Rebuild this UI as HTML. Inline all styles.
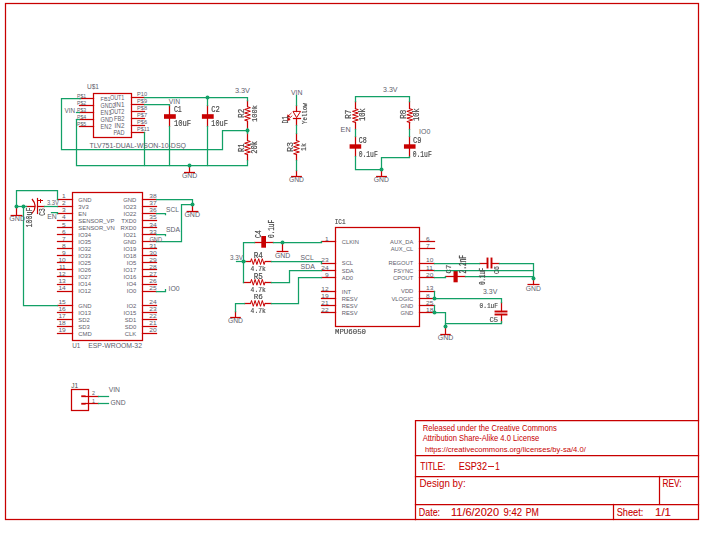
<!DOCTYPE html>
<html><head><meta charset="utf-8"><style>
html,body{margin:0;padding:0;background:#fff;width:705px;height:533px;overflow:hidden}
svg{display:block;position:absolute;left:0;top:0}
#ov{will-change:transform}
text{white-space:pre}
</style></head><body>
<svg width="705" height="533" viewBox="0 0 705 533">
<rect x="5.50" y="3.50" width="693.00" height="516.00" fill="none" stroke="#c80000" stroke-width="1.25"/>
<polyline points="415.50,519.50 415.50,420.50 698.50,420.50" fill="none" stroke="#c80000" stroke-width="1.25" stroke-linecap="square" stroke-linejoin="miter"/>
<polyline points="415.50,455.50 698.50,455.50" fill="none" stroke="#c80000" stroke-width="1.25" stroke-linecap="square" stroke-linejoin="miter"/>
<polyline points="415.50,476.50 698.50,476.50" fill="none" stroke="#c80000" stroke-width="1.25" stroke-linecap="square" stroke-linejoin="miter"/>
<polyline points="415.50,504.50 698.50,504.50" fill="none" stroke="#c80000" stroke-width="1.25" stroke-linecap="square" stroke-linejoin="miter"/>
<polyline points="659.50,476.50 659.50,504.50" fill="none" stroke="#c80000" stroke-width="1.25" stroke-linecap="square" stroke-linejoin="miter"/>
<polyline points="613.50,504.50 613.50,519.50" fill="none" stroke="#c80000" stroke-width="1.25" stroke-linecap="square" stroke-linejoin="miter"/>
<polyline points="488.50,466.50 493.50,466.50" fill="none" stroke="#c80000" stroke-width="0.9" stroke-linecap="square" stroke-linejoin="miter"/>
<rect x="93.50" y="93.50" width="38.00" height="44.00" fill="none" stroke="#c80000" stroke-width="1.25"/>
<polyline points="79.50,98.50 93.50,98.50" fill="none" stroke="#c80000" stroke-width="1.25" stroke-linecap="square" stroke-linejoin="miter"/>
<polyline points="79.50,105.50 93.50,105.50" fill="none" stroke="#c80000" stroke-width="1.25" stroke-linecap="square" stroke-linejoin="miter"/>
<polyline points="79.50,112.50 93.50,112.50" fill="none" stroke="#c80000" stroke-width="1.25" stroke-linecap="square" stroke-linejoin="miter"/>
<polyline points="79.50,119.50 93.50,119.50" fill="none" stroke="#c80000" stroke-width="1.25" stroke-linecap="square" stroke-linejoin="miter"/>
<polyline points="79.50,126.50 93.50,126.50" fill="none" stroke="#c80000" stroke-width="1.25" stroke-linecap="square" stroke-linejoin="miter"/>
<polyline points="131.50,97.50 144.50,97.50" fill="none" stroke="#c80000" stroke-width="1.25" stroke-linecap="square" stroke-linejoin="miter"/>
<polyline points="131.50,104.50 144.50,104.50" fill="none" stroke="#c80000" stroke-width="1.25" stroke-linecap="square" stroke-linejoin="miter"/>
<polyline points="131.50,111.50 144.50,111.50" fill="none" stroke="#c80000" stroke-width="1.25" stroke-linecap="square" stroke-linejoin="miter"/>
<polyline points="131.50,118.50 144.50,118.50" fill="none" stroke="#c80000" stroke-width="1.25" stroke-linecap="square" stroke-linejoin="miter"/>
<polyline points="131.50,125.50 144.50,125.50" fill="none" stroke="#c80000" stroke-width="1.25" stroke-linecap="square" stroke-linejoin="miter"/>
<polyline points="131.50,132.50 144.50,132.50" fill="none" stroke="#c80000" stroke-width="1.25" stroke-linecap="square" stroke-linejoin="miter"/>
<polyline points="169.50,105.50 169.50,114.50" fill="none" stroke="#c80000" stroke-width="1.25" stroke-linecap="square" stroke-linejoin="miter"/>
<polyline points="169.50,118.50 169.50,126.50" fill="none" stroke="#c80000" stroke-width="1.25" stroke-linecap="square" stroke-linejoin="miter"/>
<rect x="164.00" y="114.20" width="11.80" height="4.60" fill="#c80000"/>
<polyline points="207.50,105.50 207.50,114.50" fill="none" stroke="#c80000" stroke-width="1.25" stroke-linecap="square" stroke-linejoin="miter"/>
<polyline points="207.50,118.50 207.50,126.50" fill="none" stroke="#c80000" stroke-width="1.25" stroke-linecap="square" stroke-linejoin="miter"/>
<rect x="201.90" y="114.20" width="11.80" height="4.60" fill="#c80000"/>
<polyline points="189.50,165.50 189.50,172.50" fill="none" stroke="#c80000" stroke-width="1.25" stroke-linecap="square" stroke-linejoin="miter"/>
<polyline points="184.60,172.50 194.40,172.50" fill="none" stroke="#c80000" stroke-width="1.25" stroke-linecap="square" stroke-linejoin="miter"/>
<polyline points="247.50,100.50 247.50,106.50" fill="none" stroke="#c80000" stroke-width="1.25" stroke-linecap="square" stroke-linejoin="miter"/>
<polyline points="247.50,121.50 247.50,130.50" fill="none" stroke="#c80000" stroke-width="1.25" stroke-linecap="square" stroke-linejoin="miter"/>
<polyline points="247.50,106.80 250.40,107.69 244.60,109.46 250.40,111.24 244.60,113.01 250.40,114.79 244.60,116.56 250.40,118.34 244.60,120.11 247.50,121.00" fill="none" stroke="#c80000" stroke-width="1.0" stroke-linecap="square" stroke-linejoin="miter"/>
<polyline points="247.50,130.50 247.50,140.50" fill="none" stroke="#c80000" stroke-width="1.25" stroke-linecap="square" stroke-linejoin="miter"/>
<polyline points="247.50,154.50 247.50,160.50" fill="none" stroke="#c80000" stroke-width="1.25" stroke-linecap="square" stroke-linejoin="miter"/>
<polyline points="247.50,140.60 250.40,141.47 244.60,143.22 250.40,144.97 244.60,146.72 250.40,148.47 244.60,150.22 250.40,151.97 244.60,153.72 247.50,154.60" fill="none" stroke="#c80000" stroke-width="1.0" stroke-linecap="square" stroke-linejoin="miter"/>
<polyline points="296.50,105.50 296.50,111.50" fill="none" stroke="#c80000" stroke-width="1.25" stroke-linecap="square" stroke-linejoin="miter"/>
<polygon points="293.0,111.4 300.6,111.4 296.6,117.6" fill="none" stroke="#c80000" stroke-width="1.0" stroke-linejoin="miter"/>
<polyline points="293.50,118.50 300.50,118.50" fill="none" stroke="#c80000" stroke-width="1.25" stroke-linecap="square" stroke-linejoin="miter"/>
<polyline points="296.50,118.50 296.50,125.50" fill="none" stroke="#c80000" stroke-width="1.25" stroke-linecap="square" stroke-linejoin="miter"/>
<polyline points="291.20,113.20 288.60,115.60" fill="none" stroke="#c80000" stroke-width="0.8" stroke-linecap="square" stroke-linejoin="miter"/>
<polyline points="291.90,116.00 289.00,118.70" fill="none" stroke="#c80000" stroke-width="0.8" stroke-linecap="square" stroke-linejoin="miter"/>
<polygon points="286.6,117.8 287.7,114.3 290.4,116.9" fill="#c80000"/>
<polygon points="286.9,120.9 288.0,117.4 290.7,120.0" fill="#c80000"/>
<polyline points="296.50,133.50 296.50,140.50" fill="none" stroke="#c80000" stroke-width="1.25" stroke-linecap="square" stroke-linejoin="miter"/>
<polyline points="296.50,154.50 296.50,160.50" fill="none" stroke="#c80000" stroke-width="1.25" stroke-linecap="square" stroke-linejoin="miter"/>
<polyline points="296.50,140.60 299.40,141.47 293.60,143.22 299.40,144.97 293.60,146.72 299.40,148.47 293.60,150.22 299.40,151.97 293.60,153.72 296.50,154.60" fill="none" stroke="#c80000" stroke-width="1.0" stroke-linecap="square" stroke-linejoin="miter"/>
<polyline points="296.50,170.50 296.50,176.50" fill="none" stroke="#c80000" stroke-width="1.25" stroke-linecap="square" stroke-linejoin="miter"/>
<polyline points="291.70,176.50 301.30,176.50" fill="none" stroke="#c80000" stroke-width="1.25" stroke-linecap="square" stroke-linejoin="miter"/>
<polyline points="355.50,101.50 355.50,108.50" fill="none" stroke="#c80000" stroke-width="1.25" stroke-linecap="square" stroke-linejoin="miter"/>
<polyline points="355.50,122.50 355.50,129.50" fill="none" stroke="#c80000" stroke-width="1.25" stroke-linecap="square" stroke-linejoin="miter"/>
<polyline points="355.40,108.75 358.30,109.61 352.50,111.33 358.30,113.05 352.50,114.77 358.30,116.48 352.50,118.20 358.30,119.92 352.50,121.64 355.40,122.50" fill="none" stroke="#c80000" stroke-width="1.0" stroke-linecap="square" stroke-linejoin="miter"/>
<polyline points="355.50,136.50 355.50,144.50" fill="none" stroke="#c80000" stroke-width="1.25" stroke-linecap="square" stroke-linejoin="miter"/>
<polyline points="355.50,148.50 355.50,156.50" fill="none" stroke="#c80000" stroke-width="1.25" stroke-linecap="square" stroke-linejoin="miter"/>
<rect x="349.60" y="144.30" width="11.60" height="4.40" fill="#c80000"/>
<polyline points="409.50,101.50 409.50,108.50" fill="none" stroke="#c80000" stroke-width="1.25" stroke-linecap="square" stroke-linejoin="miter"/>
<polyline points="409.50,122.50 409.50,129.50" fill="none" stroke="#c80000" stroke-width="1.25" stroke-linecap="square" stroke-linejoin="miter"/>
<polyline points="409.75,108.75 412.65,109.61 406.85,111.33 412.65,113.05 406.85,114.77 412.65,116.48 406.85,118.20 412.65,119.92 406.85,121.64 409.75,122.50" fill="none" stroke="#c80000" stroke-width="1.0" stroke-linecap="square" stroke-linejoin="miter"/>
<polyline points="409.50,136.50 409.50,144.50" fill="none" stroke="#c80000" stroke-width="1.25" stroke-linecap="square" stroke-linejoin="miter"/>
<polyline points="409.50,148.50 409.50,156.50" fill="none" stroke="#c80000" stroke-width="1.25" stroke-linecap="square" stroke-linejoin="miter"/>
<rect x="403.95" y="144.30" width="11.60" height="4.40" fill="#c80000"/>
<polyline points="381.50,169.50 381.50,176.50" fill="none" stroke="#c80000" stroke-width="1.25" stroke-linecap="square" stroke-linejoin="miter"/>
<polyline points="376.70,176.50 386.30,176.50" fill="none" stroke="#c80000" stroke-width="1.25" stroke-linecap="square" stroke-linejoin="miter"/>
<rect x="72.50" y="192.50" width="70.00" height="148.00" fill="none" stroke="#c80000" stroke-width="1.25"/>
<polyline points="57.50,199.50 72.50,199.50" fill="none" stroke="#c80000" stroke-width="1.25" stroke-linecap="square" stroke-linejoin="miter"/>
<polyline points="57.50,206.50 72.50,206.50" fill="none" stroke="#c80000" stroke-width="1.25" stroke-linecap="square" stroke-linejoin="miter"/>
<polyline points="57.50,213.50 72.50,213.50" fill="none" stroke="#c80000" stroke-width="1.25" stroke-linecap="square" stroke-linejoin="miter"/>
<polyline points="57.50,220.50 72.50,220.50" fill="none" stroke="#c80000" stroke-width="1.25" stroke-linecap="square" stroke-linejoin="miter"/>
<polyline points="57.50,227.50 72.50,227.50" fill="none" stroke="#c80000" stroke-width="1.25" stroke-linecap="square" stroke-linejoin="miter"/>
<polyline points="57.50,234.50 72.50,234.50" fill="none" stroke="#c80000" stroke-width="1.25" stroke-linecap="square" stroke-linejoin="miter"/>
<polyline points="57.50,241.50 72.50,241.50" fill="none" stroke="#c80000" stroke-width="1.25" stroke-linecap="square" stroke-linejoin="miter"/>
<polyline points="57.50,248.50 72.50,248.50" fill="none" stroke="#c80000" stroke-width="1.25" stroke-linecap="square" stroke-linejoin="miter"/>
<polyline points="57.50,255.50 72.50,255.50" fill="none" stroke="#c80000" stroke-width="1.25" stroke-linecap="square" stroke-linejoin="miter"/>
<polyline points="57.50,262.50 72.50,262.50" fill="none" stroke="#c80000" stroke-width="1.25" stroke-linecap="square" stroke-linejoin="miter"/>
<polyline points="57.50,269.50 72.50,269.50" fill="none" stroke="#c80000" stroke-width="1.25" stroke-linecap="square" stroke-linejoin="miter"/>
<polyline points="57.50,276.50 72.50,276.50" fill="none" stroke="#c80000" stroke-width="1.25" stroke-linecap="square" stroke-linejoin="miter"/>
<polyline points="57.50,284.50 72.50,284.50" fill="none" stroke="#c80000" stroke-width="1.25" stroke-linecap="square" stroke-linejoin="miter"/>
<polyline points="57.50,291.50 72.50,291.50" fill="none" stroke="#c80000" stroke-width="1.25" stroke-linecap="square" stroke-linejoin="miter"/>
<polyline points="57.50,305.50 72.50,305.50" fill="none" stroke="#c80000" stroke-width="1.25" stroke-linecap="square" stroke-linejoin="miter"/>
<polyline points="57.50,312.50 72.50,312.50" fill="none" stroke="#c80000" stroke-width="1.25" stroke-linecap="square" stroke-linejoin="miter"/>
<polyline points="57.50,319.50 72.50,319.50" fill="none" stroke="#c80000" stroke-width="1.25" stroke-linecap="square" stroke-linejoin="miter"/>
<polyline points="57.50,326.50 72.50,326.50" fill="none" stroke="#c80000" stroke-width="1.25" stroke-linecap="square" stroke-linejoin="miter"/>
<polyline points="57.50,333.50 72.50,333.50" fill="none" stroke="#c80000" stroke-width="1.25" stroke-linecap="square" stroke-linejoin="miter"/>
<polyline points="142.50,199.50 156.50,199.50" fill="none" stroke="#c80000" stroke-width="1.25" stroke-linecap="square" stroke-linejoin="miter"/>
<polyline points="142.50,206.50 156.50,206.50" fill="none" stroke="#c80000" stroke-width="1.25" stroke-linecap="square" stroke-linejoin="miter"/>
<polyline points="142.50,213.50 156.50,213.50" fill="none" stroke="#c80000" stroke-width="1.25" stroke-linecap="square" stroke-linejoin="miter"/>
<polyline points="142.50,220.50 156.50,220.50" fill="none" stroke="#c80000" stroke-width="1.25" stroke-linecap="square" stroke-linejoin="miter"/>
<polyline points="142.50,227.50 156.50,227.50" fill="none" stroke="#c80000" stroke-width="1.25" stroke-linecap="square" stroke-linejoin="miter"/>
<polyline points="142.50,234.50 156.50,234.50" fill="none" stroke="#c80000" stroke-width="1.25" stroke-linecap="square" stroke-linejoin="miter"/>
<polyline points="142.50,241.50 156.50,241.50" fill="none" stroke="#c80000" stroke-width="1.25" stroke-linecap="square" stroke-linejoin="miter"/>
<polyline points="142.50,248.50 156.50,248.50" fill="none" stroke="#c80000" stroke-width="1.25" stroke-linecap="square" stroke-linejoin="miter"/>
<polyline points="142.50,255.50 156.50,255.50" fill="none" stroke="#c80000" stroke-width="1.25" stroke-linecap="square" stroke-linejoin="miter"/>
<polyline points="142.50,262.50 156.50,262.50" fill="none" stroke="#c80000" stroke-width="1.25" stroke-linecap="square" stroke-linejoin="miter"/>
<polyline points="142.50,269.50 156.50,269.50" fill="none" stroke="#c80000" stroke-width="1.25" stroke-linecap="square" stroke-linejoin="miter"/>
<polyline points="142.50,276.50 156.50,276.50" fill="none" stroke="#c80000" stroke-width="1.25" stroke-linecap="square" stroke-linejoin="miter"/>
<polyline points="142.50,284.50 156.50,284.50" fill="none" stroke="#c80000" stroke-width="1.25" stroke-linecap="square" stroke-linejoin="miter"/>
<polyline points="142.50,291.50 156.50,291.50" fill="none" stroke="#c80000" stroke-width="1.25" stroke-linecap="square" stroke-linejoin="miter"/>
<polyline points="142.50,305.50 156.50,305.50" fill="none" stroke="#c80000" stroke-width="1.25" stroke-linecap="square" stroke-linejoin="miter"/>
<polyline points="142.50,312.50 156.50,312.50" fill="none" stroke="#c80000" stroke-width="1.25" stroke-linecap="square" stroke-linejoin="miter"/>
<polyline points="142.50,319.50 156.50,319.50" fill="none" stroke="#c80000" stroke-width="1.25" stroke-linecap="square" stroke-linejoin="miter"/>
<polyline points="142.50,326.50 156.50,326.50" fill="none" stroke="#c80000" stroke-width="1.25" stroke-linecap="square" stroke-linejoin="miter"/>
<polyline points="142.50,333.50 156.50,333.50" fill="none" stroke="#c80000" stroke-width="1.25" stroke-linecap="square" stroke-linejoin="miter"/>
<polyline points="26.50,206.50 34.50,206.50" fill="none" stroke="#c80000" stroke-width="1.25" stroke-linecap="square" stroke-linejoin="miter"/>
<path d="M32.0,199.0 Q38.4,206.4 32.0,213.4" fill="none" stroke="#c80000" stroke-width="1.2"/>
<polyline points="37.50,198.50 37.50,213.50" fill="none" stroke="#c80000" stroke-width="1.2" stroke-linecap="square" stroke-linejoin="miter"/>
<polyline points="38.50,200.50 42.50,200.50" fill="none" stroke="#c80000" stroke-width="1.0" stroke-linecap="square" stroke-linejoin="miter"/>
<polyline points="40.50,199.50 40.50,202.50" fill="none" stroke="#c80000" stroke-width="1.0" stroke-linecap="square" stroke-linejoin="miter"/>
<polyline points="37.50,206.50 44.50,206.50" fill="none" stroke="#c80000" stroke-width="1.25" stroke-linecap="square" stroke-linejoin="miter"/>
<polyline points="16.50,206.50 16.50,215.50" fill="none" stroke="#c80000" stroke-width="1.25" stroke-linecap="square" stroke-linejoin="miter"/>
<polyline points="11.20,215.50 21.80,215.50" fill="none" stroke="#c80000" stroke-width="1.25" stroke-linecap="square" stroke-linejoin="miter"/>
<polyline points="192.50,204.50 192.50,211.50" fill="none" stroke="#c80000" stroke-width="1.25" stroke-linecap="square" stroke-linejoin="miter"/>
<polyline points="187.20,211.50 197.80,211.50" fill="none" stroke="#c80000" stroke-width="1.25" stroke-linecap="square" stroke-linejoin="miter"/>
<rect x="71.50" y="389.50" width="17.00" height="21.00" fill="none" stroke="#c80000" stroke-width="1.25"/>
<rect x="81.25" y="395.35" width="4.35" height="1.80" fill="#c80000"/>
<polyline points="85.50,396.50 98.50,396.50" fill="none" stroke="#c80000" stroke-width="1.25" stroke-linecap="square" stroke-linejoin="miter"/>
<rect x="81.25" y="402.85" width="4.35" height="1.80" fill="#c80000"/>
<polyline points="85.50,403.50 98.50,403.50" fill="none" stroke="#c80000" stroke-width="1.25" stroke-linecap="square" stroke-linejoin="miter"/>
<rect x="335.50" y="227.50" width="84.00" height="99.00" fill="none" stroke="#c80000" stroke-width="1.25"/>
<polyline points="321.50,241.50 335.50,241.50" fill="none" stroke="#c80000" stroke-width="1.25" stroke-linecap="square" stroke-linejoin="miter"/>
<polyline points="321.50,263.50 335.50,263.50" fill="none" stroke="#c80000" stroke-width="1.25" stroke-linecap="square" stroke-linejoin="miter"/>
<polyline points="321.50,270.50 335.50,270.50" fill="none" stroke="#c80000" stroke-width="1.25" stroke-linecap="square" stroke-linejoin="miter"/>
<polyline points="321.50,277.50 335.50,277.50" fill="none" stroke="#c80000" stroke-width="1.25" stroke-linecap="square" stroke-linejoin="miter"/>
<polyline points="321.50,291.50 335.50,291.50" fill="none" stroke="#c80000" stroke-width="1.25" stroke-linecap="square" stroke-linejoin="miter"/>
<polyline points="321.50,298.50 335.50,298.50" fill="none" stroke="#c80000" stroke-width="1.25" stroke-linecap="square" stroke-linejoin="miter"/>
<polyline points="321.50,305.50 335.50,305.50" fill="none" stroke="#c80000" stroke-width="1.25" stroke-linecap="square" stroke-linejoin="miter"/>
<polyline points="321.50,312.50 335.50,312.50" fill="none" stroke="#c80000" stroke-width="1.25" stroke-linecap="square" stroke-linejoin="miter"/>
<polyline points="419.50,241.50 434.50,241.50" fill="none" stroke="#c80000" stroke-width="1.25" stroke-linecap="square" stroke-linejoin="miter"/>
<polyline points="419.50,248.50 434.50,248.50" fill="none" stroke="#c80000" stroke-width="1.25" stroke-linecap="square" stroke-linejoin="miter"/>
<polyline points="419.50,263.50 434.50,263.50" fill="none" stroke="#c80000" stroke-width="1.25" stroke-linecap="square" stroke-linejoin="miter"/>
<polyline points="419.50,270.50 434.50,270.50" fill="none" stroke="#c80000" stroke-width="1.25" stroke-linecap="square" stroke-linejoin="miter"/>
<polyline points="419.50,277.50 434.50,277.50" fill="none" stroke="#c80000" stroke-width="1.25" stroke-linecap="square" stroke-linejoin="miter"/>
<polyline points="419.50,291.50 434.50,291.50" fill="none" stroke="#c80000" stroke-width="1.25" stroke-linecap="square" stroke-linejoin="miter"/>
<polyline points="419.50,298.50 434.50,298.50" fill="none" stroke="#c80000" stroke-width="1.25" stroke-linecap="square" stroke-linejoin="miter"/>
<polyline points="419.50,305.50 434.50,305.50" fill="none" stroke="#c80000" stroke-width="1.25" stroke-linecap="square" stroke-linejoin="miter"/>
<polyline points="419.50,312.50 434.50,312.50" fill="none" stroke="#c80000" stroke-width="1.25" stroke-linecap="square" stroke-linejoin="miter"/>
<polyline points="273.50,242.50 266.50,242.50" fill="none" stroke="#c80000" stroke-width="1.25" stroke-linecap="square" stroke-linejoin="miter"/>
<rect x="261.30" y="236.00" width="4.70" height="11.70" fill="#c80000"/>
<polyline points="261.50,242.50 254.50,242.50" fill="none" stroke="#c80000" stroke-width="1.25" stroke-linecap="square" stroke-linejoin="miter"/>
<polyline points="282.50,242.50 282.50,251.50" fill="none" stroke="#c80000" stroke-width="1.25" stroke-linecap="square" stroke-linejoin="miter"/>
<polyline points="277.20,251.50 287.80,251.50" fill="none" stroke="#c80000" stroke-width="1.25" stroke-linecap="square" stroke-linejoin="miter"/>
<polyline points="245.50,261.50 250.50,261.50" fill="none" stroke="#c80000" stroke-width="1.25" stroke-linecap="square" stroke-linejoin="miter"/>
<polyline points="265.50,261.50 271.50,261.50" fill="none" stroke="#c80000" stroke-width="1.25" stroke-linecap="square" stroke-linejoin="miter"/>
<polyline points="250.60,261.60 251.50,258.70 253.30,264.50 255.10,258.70 256.90,264.50 258.70,258.70 260.50,264.50 262.30,258.70 264.10,264.50 265.00,261.60" fill="none" stroke="#c80000" stroke-width="1.0" stroke-linecap="square" stroke-linejoin="miter"/>
<polyline points="243.50,282.50 250.50,282.50" fill="none" stroke="#c80000" stroke-width="1.25" stroke-linecap="square" stroke-linejoin="miter"/>
<polyline points="265.50,282.50 271.50,282.50" fill="none" stroke="#c80000" stroke-width="1.25" stroke-linecap="square" stroke-linejoin="miter"/>
<polyline points="250.60,282.30 251.50,279.40 253.30,285.20 255.10,279.40 256.90,285.20 258.70,279.40 260.50,285.20 262.30,279.40 264.10,285.20 265.00,282.30" fill="none" stroke="#c80000" stroke-width="1.0" stroke-linecap="square" stroke-linejoin="miter"/>
<polyline points="244.50,303.50 250.50,303.50" fill="none" stroke="#c80000" stroke-width="1.25" stroke-linecap="square" stroke-linejoin="miter"/>
<polyline points="265.50,303.50 271.50,303.50" fill="none" stroke="#c80000" stroke-width="1.25" stroke-linecap="square" stroke-linejoin="miter"/>
<polyline points="250.60,303.40 251.50,300.50 253.30,306.30 255.10,300.50 256.90,306.30 258.70,300.50 260.50,306.30 262.30,300.50 264.10,306.30 265.00,303.40" fill="none" stroke="#c80000" stroke-width="1.0" stroke-linecap="square" stroke-linejoin="miter"/>
<polyline points="235.50,311.50 235.50,317.50" fill="none" stroke="#c80000" stroke-width="1.25" stroke-linecap="square" stroke-linejoin="miter"/>
<polyline points="230.80,317.50 240.20,317.50" fill="none" stroke="#c80000" stroke-width="1.25" stroke-linecap="square" stroke-linejoin="miter"/>
<polyline points="479.50,263.50 487.50,263.50" fill="none" stroke="#c80000" stroke-width="1.25" stroke-linecap="square" stroke-linejoin="miter"/>
<polyline points="487.50,258.50 487.50,267.50" fill="none" stroke="#c80000" stroke-width="1.9" stroke-linecap="square" stroke-linejoin="miter"/>
<polyline points="491.50,258.50 491.50,267.50" fill="none" stroke="#c80000" stroke-width="1.9" stroke-linecap="square" stroke-linejoin="miter"/>
<polyline points="491.50,263.50 499.50,263.50" fill="none" stroke="#c80000" stroke-width="1.25" stroke-linecap="square" stroke-linejoin="miter"/>
<polyline points="445.50,276.50 453.50,276.50" fill="none" stroke="#c80000" stroke-width="1.25" stroke-linecap="square" stroke-linejoin="miter"/>
<rect x="453.50" y="271.00" width="4.20" height="11.30" fill="#c80000"/>
<polyline points="457.50,276.50 465.50,276.50" fill="none" stroke="#c80000" stroke-width="1.25" stroke-linecap="square" stroke-linejoin="miter"/>
<polyline points="533.50,278.50 533.50,284.50" fill="none" stroke="#c80000" stroke-width="1.25" stroke-linecap="square" stroke-linejoin="miter"/>
<polyline points="528.10,284.50 538.90,284.50" fill="none" stroke="#c80000" stroke-width="1.25" stroke-linecap="square" stroke-linejoin="miter"/>
<polyline points="501.50,302.50 501.50,311.50" fill="none" stroke="#c80000" stroke-width="1.25" stroke-linecap="square" stroke-linejoin="miter"/>
<polyline points="495.50,311.50 506.50,311.50" fill="none" stroke="#c80000" stroke-width="1.9" stroke-linecap="square" stroke-linejoin="miter"/>
<polyline points="495.50,314.50 506.50,314.50" fill="none" stroke="#c80000" stroke-width="1.9" stroke-linecap="square" stroke-linejoin="miter"/>
<polyline points="501.50,314.50 501.50,322.50" fill="none" stroke="#c80000" stroke-width="1.25" stroke-linecap="square" stroke-linejoin="miter"/>
<polyline points="445.50,326.50 445.50,334.50" fill="none" stroke="#c80000" stroke-width="1.25" stroke-linecap="square" stroke-linejoin="miter"/>
<polyline points="440.90,334.50 450.10,334.50" fill="none" stroke="#c80000" stroke-width="1.25" stroke-linecap="square" stroke-linejoin="miter"/>
<polyline points="76.50,112.50 79.50,112.50" fill="none" stroke="#12a066" stroke-width="1.25" stroke-linecap="square" stroke-linejoin="miter"/>
<polyline points="80.50,98.50 61.50,98.50 61.50,149.50 222.50,149.50 222.50,130.50 247.50,130.50" fill="none" stroke="#12a066" stroke-width="1.25" stroke-linecap="square" stroke-linejoin="miter"/>
<polyline points="76.50,119.50 76.50,165.50 247.50,165.50 247.50,160.50" fill="none" stroke="#12a066" stroke-width="1.25" stroke-linecap="square" stroke-linejoin="miter"/>
<polyline points="144.50,97.50 247.50,97.50 247.50,100.50" fill="none" stroke="#12a066" stroke-width="1.25" stroke-linecap="square" stroke-linejoin="miter"/>
<polyline points="144.50,104.50 169.50,104.50 169.50,105.50" fill="none" stroke="#12a066" stroke-width="1.25" stroke-linecap="square" stroke-linejoin="miter"/>
<polyline points="144.50,132.50 144.50,165.50" fill="none" stroke="#12a066" stroke-width="1.25" stroke-linecap="square" stroke-linejoin="miter"/>
<polyline points="169.50,126.50 169.50,165.50" fill="none" stroke="#12a066" stroke-width="1.25" stroke-linecap="square" stroke-linejoin="miter"/>
<polyline points="207.50,126.50 207.50,165.50" fill="none" stroke="#12a066" stroke-width="1.25" stroke-linecap="square" stroke-linejoin="miter"/>
<polyline points="296.50,95.50 296.50,105.50" fill="none" stroke="#12a066" stroke-width="1.25" stroke-linecap="square" stroke-linejoin="miter"/>
<polyline points="296.50,125.50 296.50,133.50" fill="none" stroke="#12a066" stroke-width="1.25" stroke-linecap="square" stroke-linejoin="miter"/>
<polyline points="296.50,160.50 296.50,170.50" fill="none" stroke="#12a066" stroke-width="1.25" stroke-linecap="square" stroke-linejoin="miter"/>
<polyline points="355.50,101.50 355.50,96.50 409.50,96.50 409.50,101.50" fill="none" stroke="#12a066" stroke-width="1.25" stroke-linecap="square" stroke-linejoin="miter"/>
<polyline points="355.50,129.50 355.50,136.50" fill="none" stroke="#12a066" stroke-width="1.25" stroke-linecap="square" stroke-linejoin="miter"/>
<polyline points="409.50,129.50 409.50,136.50" fill="none" stroke="#12a066" stroke-width="1.25" stroke-linecap="square" stroke-linejoin="miter"/>
<polyline points="355.50,156.50 355.50,169.50 381.50,169.50" fill="none" stroke="#12a066" stroke-width="1.25" stroke-linecap="square" stroke-linejoin="miter"/>
<polyline points="409.50,156.50 409.50,157.50 381.50,157.50 381.50,169.50" fill="none" stroke="#12a066" stroke-width="1.25" stroke-linecap="square" stroke-linejoin="miter"/>
<polyline points="207.50,97.50 207.50,105.50" fill="none" stroke="#12a066" stroke-width="1.25" stroke-linecap="square" stroke-linejoin="miter"/>
<polyline points="76.50,119.50 79.50,119.50" fill="none" stroke="#12a066" stroke-width="1.25" stroke-linecap="square" stroke-linejoin="miter"/>
<polyline points="57.50,199.50 57.50,190.50 16.50,190.50 16.50,206.50" fill="none" stroke="#12a066" stroke-width="1.25" stroke-linecap="square" stroke-linejoin="miter"/>
<polyline points="16.50,206.50 26.50,206.50" fill="none" stroke="#12a066" stroke-width="1.25" stroke-linecap="square" stroke-linejoin="miter"/>
<polyline points="44.50,206.50 57.50,206.50" fill="none" stroke="#12a066" stroke-width="1.25" stroke-linecap="square" stroke-linejoin="miter"/>
<polyline points="23.50,206.50 23.50,305.50 57.50,305.50" fill="none" stroke="#12a066" stroke-width="1.25" stroke-linecap="square" stroke-linejoin="miter"/>
<polyline points="51.50,212.50 57.50,212.50 57.50,213.50" fill="none" stroke="#12a066" stroke-width="1.25" stroke-linecap="square" stroke-linejoin="miter"/>
<polyline points="156.50,199.50 192.50,199.50 192.50,204.50" fill="none" stroke="#12a066" stroke-width="1.25" stroke-linecap="square" stroke-linejoin="miter"/>
<polyline points="156.50,241.50 181.50,241.50 181.50,204.50 192.50,204.50" fill="none" stroke="#12a066" stroke-width="1.25" stroke-linecap="square" stroke-linejoin="miter"/>
<polyline points="156.50,213.50 165.50,213.50 165.50,214.50" fill="none" stroke="#12a066" stroke-width="1.25" stroke-linecap="square" stroke-linejoin="miter"/>
<polyline points="156.50,234.50 165.50,234.50 165.50,235.50" fill="none" stroke="#12a066" stroke-width="1.25" stroke-linecap="square" stroke-linejoin="miter"/>
<polyline points="156.50,291.50 165.50,291.50 165.50,289.50" fill="none" stroke="#12a066" stroke-width="1.25" stroke-linecap="square" stroke-linejoin="miter"/>
<polyline points="98.50,396.50 108.50,396.50" fill="none" stroke="#12a066" stroke-width="1.25" stroke-linecap="square" stroke-linejoin="miter"/>
<polyline points="98.50,403.50 108.50,403.50" fill="none" stroke="#12a066" stroke-width="1.25" stroke-linecap="square" stroke-linejoin="miter"/>
<polyline points="321.50,241.50 321.50,242.50 273.50,242.50" fill="none" stroke="#12a066" stroke-width="1.25" stroke-linecap="square" stroke-linejoin="miter"/>
<polyline points="254.50,242.50 243.50,242.50 243.50,282.50" fill="none" stroke="#12a066" stroke-width="1.25" stroke-linecap="square" stroke-linejoin="miter"/>
<polyline points="236.50,261.50 245.50,261.50" fill="none" stroke="#12a066" stroke-width="1.25" stroke-linecap="square" stroke-linejoin="miter"/>
<polyline points="271.50,261.50 321.50,261.50 321.50,263.50" fill="none" stroke="#12a066" stroke-width="1.25" stroke-linecap="square" stroke-linejoin="miter"/>
<polyline points="271.50,282.50 289.50,282.50 289.50,270.50 321.50,270.50" fill="none" stroke="#12a066" stroke-width="1.25" stroke-linecap="square" stroke-linejoin="miter"/>
<polyline points="271.50,303.50 298.50,303.50 298.50,277.50 321.50,277.50" fill="none" stroke="#12a066" stroke-width="1.25" stroke-linecap="square" stroke-linejoin="miter"/>
<polyline points="244.50,303.50 235.50,303.50 235.50,311.50" fill="none" stroke="#12a066" stroke-width="1.25" stroke-linecap="square" stroke-linejoin="miter"/>
<polyline points="434.50,263.50 479.50,263.50" fill="none" stroke="#12a066" stroke-width="1.25" stroke-linecap="square" stroke-linejoin="miter"/>
<polyline points="499.50,263.50 533.50,263.50 533.50,278.50" fill="none" stroke="#12a066" stroke-width="1.25" stroke-linecap="square" stroke-linejoin="miter"/>
<polyline points="434.50,270.50 533.50,270.50" fill="none" stroke="#12a066" stroke-width="1.25" stroke-linecap="square" stroke-linejoin="miter"/>
<polyline points="434.50,277.50 445.50,277.50 445.50,276.50" fill="none" stroke="#12a066" stroke-width="1.25" stroke-linecap="square" stroke-linejoin="miter"/>
<polyline points="465.50,276.50 533.50,276.50" fill="none" stroke="#12a066" stroke-width="1.25" stroke-linecap="square" stroke-linejoin="miter"/>
<polyline points="434.50,291.50 434.50,298.50" fill="none" stroke="#12a066" stroke-width="1.25" stroke-linecap="square" stroke-linejoin="miter"/>
<polyline points="434.50,305.50 434.50,312.50" fill="none" stroke="#12a066" stroke-width="1.25" stroke-linecap="square" stroke-linejoin="miter"/>
<polyline points="434.50,298.50 501.50,298.50 501.50,302.50" fill="none" stroke="#12a066" stroke-width="1.25" stroke-linecap="square" stroke-linejoin="miter"/>
<polyline points="501.50,321.50 501.50,323.50 445.50,323.50" fill="none" stroke="#12a066" stroke-width="1.25" stroke-linecap="square" stroke-linejoin="miter"/>
<polyline points="434.50,312.50 445.50,312.50 445.50,326.50" fill="none" stroke="#12a066" stroke-width="1.25" stroke-linecap="square" stroke-linejoin="miter"/>
<polyline points="247.50,128.50 247.50,133.50" fill="none" stroke="#12a066" stroke-width="1.25" stroke-linecap="square" stroke-linejoin="miter"/>
<circle cx="207.50" cy="97.50" r="2.0" fill="#12a066"/>
<circle cx="247.50" cy="130.50" r="2.0" fill="#12a066"/>
<circle cx="189.50" cy="165.50" r="2.0" fill="#12a066"/>
<circle cx="381.50" cy="169.50" r="2.0" fill="#12a066"/>
<circle cx="16.50" cy="206.50" r="2.0" fill="#12a066"/>
<circle cx="23.50" cy="206.50" r="2.0" fill="#12a066"/>
<circle cx="192.50" cy="204.50" r="2.0" fill="#12a066"/>
<circle cx="282.50" cy="242.50" r="2.0" fill="#12a066"/>
<circle cx="243.50" cy="261.50" r="2.0" fill="#12a066"/>
<circle cx="533.50" cy="278.50" r="2.0" fill="#12a066"/>
<circle cx="434.50" cy="298.50" r="2.0" fill="#12a066"/>
<circle cx="434.50" cy="312.50" r="2.0" fill="#12a066"/>
<circle cx="445.50" cy="326.50" r="2.0" fill="#12a066"/>
<text transform="translate(422.70,431.30)" font-family="Liberation Sans" font-size="8.72" fill="#c80000" textLength="134.00" lengthAdjust="spacingAndGlyphs">Released under the Creative Commons</text>
<text transform="translate(422.70,441.20)" font-family="Liberation Sans" font-size="8.58" fill="#c80000" textLength="116.50" lengthAdjust="spacingAndGlyphs">Attribution Share-Alike 4.0 License</text>
<text transform="translate(424.90,451.60)" font-family="Liberation Sans" font-size="7.56" fill="#c80000" textLength="160.90" lengthAdjust="spacingAndGlyphs">https://creativecommons.org/licenses/by-sa/4.0/</text>
<text transform="translate(420.30,469.60)" font-family="Liberation Sans" font-size="10.61" fill="#c80000" stroke="#c80000" stroke-width="0.1" textLength="25.10" lengthAdjust="spacingAndGlyphs">TITLE:</text>
<text transform="translate(458.80,469.60)" font-family="Liberation Sans" font-size="10.61" fill="#c80000" stroke="#c80000" stroke-width="0.1" textLength="28.10" lengthAdjust="spacingAndGlyphs">ESP32</text>
<text transform="translate(495.20,469.60)" font-family="Liberation Sans" font-size="10.61" fill="#c80000" stroke="#c80000" stroke-width="0.1" textLength="4.40" lengthAdjust="spacingAndGlyphs">1</text>
<text transform="translate(419.50,486.80)" font-family="Liberation Sans" font-size="10.17" fill="#c80000" textLength="46.10" lengthAdjust="spacingAndGlyphs">Design by:</text>
<text transform="translate(662.40,487.20)" font-family="Liberation Sans" font-size="10.76" fill="#c80000" stroke="#c80000" stroke-width="0.1" textLength="19.20" lengthAdjust="spacingAndGlyphs">REV:</text>
<text transform="translate(418.80,516.00)" font-family="Liberation Sans" font-size="11.63" fill="#c80000" stroke="#c80000" stroke-width="0.1" textLength="21.30" lengthAdjust="spacingAndGlyphs">Date:</text>
<text transform="translate(451.00,516.00)" font-family="Liberation Sans" font-size="11.63" fill="#c80000" stroke="#c80000" stroke-width="0.1" textLength="48.00" lengthAdjust="spacingAndGlyphs">11/6/2020</text>
<text transform="translate(503.60,516.00)" font-family="Liberation Sans" font-size="11.63" fill="#c80000" stroke="#c80000" stroke-width="0.1" textLength="18.40" lengthAdjust="spacingAndGlyphs">9:42</text>
<text transform="translate(525.70,516.00)" font-family="Liberation Sans" font-size="11.63" fill="#c80000" stroke="#c80000" stroke-width="0.1" textLength="13.10" lengthAdjust="spacingAndGlyphs">PM</text>
<text transform="translate(616.70,516.00)" font-family="Liberation Sans" font-size="11.63" fill="#c80000" stroke="#c80000" stroke-width="0.1" textLength="26.60" lengthAdjust="spacingAndGlyphs">Sheet:</text>
<text transform="translate(655.00,516.00)" font-family="Liberation Sans" font-size="11.63" fill="#c80000" stroke="#c80000" stroke-width="0.1" textLength="16.00" lengthAdjust="spacingAndGlyphs">1/1</text>
<text transform="translate(87.00,89.30)" font-family="Liberation Sans" font-size="7.27" fill="#5e5e6c" textLength="12.00" lengthAdjust="spacingAndGlyphs">U$1</text>
<text transform="translate(77.00,97.60)" font-family="Liberation Sans" font-size="5.67" fill="#5e5e6c" textLength="9.20" lengthAdjust="spacingAndGlyphs">P$1</text>
<text transform="translate(77.00,104.67)" font-family="Liberation Sans" font-size="5.67" fill="#5e5e6c" textLength="9.20" lengthAdjust="spacingAndGlyphs">P$2</text>
<text transform="translate(77.00,111.74)" font-family="Liberation Sans" font-size="5.67" fill="#5e5e6c" textLength="9.20" lengthAdjust="spacingAndGlyphs">P$3</text>
<text transform="translate(77.00,118.81)" font-family="Liberation Sans" font-size="5.67" fill="#5e5e6c" textLength="9.20" lengthAdjust="spacingAndGlyphs">P$4</text>
<text transform="translate(77.00,125.88)" font-family="Liberation Sans" font-size="5.67" fill="#5e5e6c" textLength="9.20" lengthAdjust="spacingAndGlyphs">P$5</text>
<text transform="translate(100.60,100.60)" font-family="Liberation Sans" font-size="6.25" fill="#5e5e6c" textLength="9.90" lengthAdjust="spacingAndGlyphs">FB1</text>
<text transform="translate(100.60,107.70)" font-family="Liberation Sans" font-size="6.40" fill="#5e5e6c" textLength="14.90" lengthAdjust="spacingAndGlyphs">GND2</text>
<text transform="translate(100.60,114.80)" font-family="Liberation Sans" font-size="6.40" fill="#5e5e6c" textLength="10.90" lengthAdjust="spacingAndGlyphs">EN1</text>
<text transform="translate(100.60,121.80)" font-family="Liberation Sans" font-size="6.40" fill="#5e5e6c" textLength="12.40" lengthAdjust="spacingAndGlyphs">GND</text>
<text transform="translate(100.60,128.90)" font-family="Liberation Sans" font-size="6.40" fill="#5e5e6c" textLength="10.90" lengthAdjust="spacingAndGlyphs">EN2</text>
<text transform="translate(109.90,100.00)" font-family="Liberation Sans" font-size="6.40" fill="#5e5e6c" textLength="14.50" lengthAdjust="spacingAndGlyphs">OUT1</text>
<text transform="translate(114.60,107.07)" font-family="Liberation Sans" font-size="6.40" fill="#5e5e6c" textLength="9.80" lengthAdjust="spacingAndGlyphs">IN1</text>
<text transform="translate(109.90,114.14)" font-family="Liberation Sans" font-size="6.40" fill="#5e5e6c" textLength="14.50" lengthAdjust="spacingAndGlyphs">OUT2</text>
<text transform="translate(113.90,121.21)" font-family="Liberation Sans" font-size="6.40" fill="#5e5e6c" textLength="10.50" lengthAdjust="spacingAndGlyphs">FB2</text>
<text transform="translate(114.60,128.28)" font-family="Liberation Sans" font-size="6.40" fill="#5e5e6c" textLength="9.80" lengthAdjust="spacingAndGlyphs">IN2</text>
<text transform="translate(113.40,135.35)" font-family="Liberation Sans" font-size="6.40" fill="#5e5e6c" textLength="11.00" lengthAdjust="spacingAndGlyphs">PAD</text>
<text transform="translate(137.00,95.80)" font-family="Liberation Sans" font-size="5.52" fill="#5e5e6c" textLength="10.10" lengthAdjust="spacingAndGlyphs">P10</text>
<text transform="translate(137.00,102.87)" font-family="Liberation Sans" font-size="5.52" fill="#5e5e6c" textLength="10.10" lengthAdjust="spacingAndGlyphs">P$9</text>
<text transform="translate(137.00,109.94)" font-family="Liberation Sans" font-size="5.52" fill="#5e5e6c" textLength="10.10" lengthAdjust="spacingAndGlyphs">P$8</text>
<text transform="translate(137.00,117.01)" font-family="Liberation Sans" font-size="5.52" fill="#5e5e6c" textLength="10.10" lengthAdjust="spacingAndGlyphs">P$7</text>
<text transform="translate(137.00,124.08)" font-family="Liberation Sans" font-size="5.52" fill="#5e5e6c" textLength="10.10" lengthAdjust="spacingAndGlyphs">P$6</text>
<text transform="translate(137.00,131.15)" font-family="Liberation Sans" font-size="5.52" fill="#5e5e6c" textLength="12.50" lengthAdjust="spacingAndGlyphs">P$11</text>
<text transform="translate(64.40,113.00)" font-family="Liberation Sans" font-size="6.83" fill="#5e5e6c" textLength="10.60" lengthAdjust="spacingAndGlyphs">VIN</text>
<text transform="translate(89.40,147.80)" font-family="Liberation Sans" font-size="6.98" fill="#5e5e6c" textLength="96.60" lengthAdjust="spacingAndGlyphs">TLV751-DUAL-WSON-10-DSQ</text>
<text transform="translate(168.80,104.40)" font-family="Liberation Sans" font-size="7.99" fill="#5e5e6c" textLength="11.20" lengthAdjust="spacingAndGlyphs">VIN</text>
<text transform="translate(181.90,177.90)" font-family="Liberation Sans" font-size="6.83" fill="#5e5e6c" textLength="15.30" lengthAdjust="spacingAndGlyphs">GND</text>
<text transform="translate(234.90,93.10)" font-family="Liberation Sans" font-size="7.70" fill="#5e5e6c" textLength="15.10" lengthAdjust="spacingAndGlyphs">3.3V</text>
<text transform="translate(291.00,95.00)" font-family="Liberation Sans" font-size="7.27" fill="#5e5e6c" textLength="11.50" lengthAdjust="spacingAndGlyphs">VIN</text>
<text transform="translate(289.00,182.20)" font-family="Liberation Sans" font-size="6.83" fill="#5e5e6c" textLength="15.00" lengthAdjust="spacingAndGlyphs">GND</text>
<text transform="translate(383.00,92.00)" font-family="Liberation Sans" font-size="7.27" fill="#5e5e6c" textLength="14.50" lengthAdjust="spacingAndGlyphs">3.3V</text>
<text transform="translate(340.60,132.00)" font-family="Liberation Sans" font-size="7.27" fill="#5e5e6c" textLength="10.00" lengthAdjust="spacingAndGlyphs">EN</text>
<text transform="translate(419.00,134.10)" font-family="Liberation Sans" font-size="7.27" fill="#5e5e6c" textLength="11.30" lengthAdjust="spacingAndGlyphs">IO0</text>
<text transform="translate(373.70,181.80)" font-family="Liberation Sans" font-size="7.12" fill="#5e5e6c" textLength="15.10" lengthAdjust="spacingAndGlyphs">GND</text>
<text x="78.30" y="201.70" font-family="Liberation Sans" font-size="5.90" fill="#5e5e6c" text-anchor="start">GND</text>
<text transform="translate(65.80,198.30) scale(1.25,1)" font-family="Liberation Sans" font-size="5.30" fill="#5e5e6c" text-anchor="end">1</text>
<text x="78.30" y="208.75" font-family="Liberation Sans" font-size="5.90" fill="#5e5e6c" text-anchor="start">3V3</text>
<text transform="translate(65.80,205.35) scale(1.25,1)" font-family="Liberation Sans" font-size="5.30" fill="#5e5e6c" text-anchor="end">2</text>
<text x="78.30" y="215.80" font-family="Liberation Sans" font-size="5.90" fill="#5e5e6c" text-anchor="start">EN</text>
<text transform="translate(65.80,212.40) scale(1.25,1)" font-family="Liberation Sans" font-size="5.30" fill="#5e5e6c" text-anchor="end">3</text>
<text x="78.30" y="222.85" font-family="Liberation Sans" font-size="5.90" fill="#5e5e6c" text-anchor="start">SENSOR_VP</text>
<text transform="translate(65.80,219.45) scale(1.25,1)" font-family="Liberation Sans" font-size="5.30" fill="#5e5e6c" text-anchor="end">4</text>
<text x="78.30" y="229.90" font-family="Liberation Sans" font-size="5.90" fill="#5e5e6c" text-anchor="start">SENSOR_VN</text>
<text transform="translate(65.80,226.50) scale(1.25,1)" font-family="Liberation Sans" font-size="5.30" fill="#5e5e6c" text-anchor="end">5</text>
<text x="78.30" y="236.95" font-family="Liberation Sans" font-size="5.90" fill="#5e5e6c" text-anchor="start">IO34</text>
<text transform="translate(65.80,233.55) scale(1.25,1)" font-family="Liberation Sans" font-size="5.30" fill="#5e5e6c" text-anchor="end">6</text>
<text x="78.30" y="244.00" font-family="Liberation Sans" font-size="5.90" fill="#5e5e6c" text-anchor="start">IO35</text>
<text transform="translate(65.80,240.60) scale(1.25,1)" font-family="Liberation Sans" font-size="5.30" fill="#5e5e6c" text-anchor="end">7</text>
<text x="78.30" y="251.05" font-family="Liberation Sans" font-size="5.90" fill="#5e5e6c" text-anchor="start">IO32</text>
<text transform="translate(65.80,247.65) scale(1.25,1)" font-family="Liberation Sans" font-size="5.30" fill="#5e5e6c" text-anchor="end">8</text>
<text x="78.30" y="258.10" font-family="Liberation Sans" font-size="5.90" fill="#5e5e6c" text-anchor="start">IO33</text>
<text transform="translate(65.80,254.70) scale(1.25,1)" font-family="Liberation Sans" font-size="5.30" fill="#5e5e6c" text-anchor="end">9</text>
<text x="78.30" y="265.15" font-family="Liberation Sans" font-size="5.90" fill="#5e5e6c" text-anchor="start">IO25</text>
<text transform="translate(65.80,261.75) scale(1.25,1)" font-family="Liberation Sans" font-size="5.30" fill="#5e5e6c" text-anchor="end">10</text>
<text x="78.30" y="272.20" font-family="Liberation Sans" font-size="5.90" fill="#5e5e6c" text-anchor="start">IO26</text>
<text transform="translate(65.80,268.80) scale(1.25,1)" font-family="Liberation Sans" font-size="5.30" fill="#5e5e6c" text-anchor="end">11</text>
<text x="78.30" y="279.25" font-family="Liberation Sans" font-size="5.90" fill="#5e5e6c" text-anchor="start">IO27</text>
<text transform="translate(65.80,275.85) scale(1.25,1)" font-family="Liberation Sans" font-size="5.30" fill="#5e5e6c" text-anchor="end">12</text>
<text x="78.30" y="286.30" font-family="Liberation Sans" font-size="5.90" fill="#5e5e6c" text-anchor="start">IO14</text>
<text transform="translate(65.80,282.90) scale(1.25,1)" font-family="Liberation Sans" font-size="5.30" fill="#5e5e6c" text-anchor="end">13</text>
<text x="78.30" y="293.35" font-family="Liberation Sans" font-size="5.90" fill="#5e5e6c" text-anchor="start">IO12</text>
<text transform="translate(65.80,289.95) scale(1.25,1)" font-family="Liberation Sans" font-size="5.30" fill="#5e5e6c" text-anchor="end">14</text>
<text x="78.30" y="307.50" font-family="Liberation Sans" font-size="5.90" fill="#5e5e6c" text-anchor="start">GND</text>
<text transform="translate(65.80,304.10) scale(1.25,1)" font-family="Liberation Sans" font-size="5.30" fill="#5e5e6c" text-anchor="end">15</text>
<text x="78.30" y="314.55" font-family="Liberation Sans" font-size="5.90" fill="#5e5e6c" text-anchor="start">IO13</text>
<text transform="translate(65.80,311.15) scale(1.25,1)" font-family="Liberation Sans" font-size="5.30" fill="#5e5e6c" text-anchor="end">16</text>
<text x="78.30" y="321.60" font-family="Liberation Sans" font-size="5.90" fill="#5e5e6c" text-anchor="start">SD2</text>
<text transform="translate(65.80,318.20) scale(1.25,1)" font-family="Liberation Sans" font-size="5.30" fill="#5e5e6c" text-anchor="end">17</text>
<text x="78.30" y="328.65" font-family="Liberation Sans" font-size="5.90" fill="#5e5e6c" text-anchor="start">SD3</text>
<text transform="translate(65.80,325.25) scale(1.25,1)" font-family="Liberation Sans" font-size="5.30" fill="#5e5e6c" text-anchor="end">18</text>
<text x="78.30" y="335.70" font-family="Liberation Sans" font-size="5.90" fill="#5e5e6c" text-anchor="start">CMD</text>
<text transform="translate(65.80,332.30) scale(1.25,1)" font-family="Liberation Sans" font-size="5.30" fill="#5e5e6c" text-anchor="end">19</text>
<text x="136.30" y="201.70" font-family="Liberation Sans" font-size="5.90" fill="#5e5e6c" text-anchor="end">GND</text>
<text transform="translate(149.20,198.30) scale(1.25,1)" font-family="Liberation Sans" font-size="5.30" fill="#5e5e6c" text-anchor="start">38</text>
<text x="136.30" y="208.75" font-family="Liberation Sans" font-size="5.90" fill="#5e5e6c" text-anchor="end">IO23</text>
<text transform="translate(149.20,205.35) scale(1.25,1)" font-family="Liberation Sans" font-size="5.30" fill="#5e5e6c" text-anchor="start">37</text>
<text x="136.30" y="215.80" font-family="Liberation Sans" font-size="5.90" fill="#5e5e6c" text-anchor="end">IO22</text>
<text transform="translate(149.20,212.40) scale(1.25,1)" font-family="Liberation Sans" font-size="5.30" fill="#5e5e6c" text-anchor="start">36</text>
<text x="136.30" y="222.85" font-family="Liberation Sans" font-size="5.90" fill="#5e5e6c" text-anchor="end">TXD0</text>
<text transform="translate(149.20,219.45) scale(1.25,1)" font-family="Liberation Sans" font-size="5.30" fill="#5e5e6c" text-anchor="start">35</text>
<text x="136.30" y="229.90" font-family="Liberation Sans" font-size="5.90" fill="#5e5e6c" text-anchor="end">RXD0</text>
<text transform="translate(149.20,226.50) scale(1.25,1)" font-family="Liberation Sans" font-size="5.30" fill="#5e5e6c" text-anchor="start">34</text>
<text x="136.30" y="236.95" font-family="Liberation Sans" font-size="5.90" fill="#5e5e6c" text-anchor="end">IO21</text>
<text transform="translate(149.20,233.55) scale(1.25,1)" font-family="Liberation Sans" font-size="5.30" fill="#5e5e6c" text-anchor="start">33</text>
<text x="136.30" y="244.00" font-family="Liberation Sans" font-size="5.90" fill="#5e5e6c" text-anchor="end">GND</text>
<text x="136.30" y="251.05" font-family="Liberation Sans" font-size="5.90" fill="#5e5e6c" text-anchor="end">IO19</text>
<text transform="translate(149.20,247.65) scale(1.25,1)" font-family="Liberation Sans" font-size="5.30" fill="#5e5e6c" text-anchor="start">31</text>
<text x="136.30" y="258.10" font-family="Liberation Sans" font-size="5.90" fill="#5e5e6c" text-anchor="end">IO18</text>
<text transform="translate(149.20,254.70) scale(1.25,1)" font-family="Liberation Sans" font-size="5.30" fill="#5e5e6c" text-anchor="start">30</text>
<text x="136.30" y="265.15" font-family="Liberation Sans" font-size="5.90" fill="#5e5e6c" text-anchor="end">IO5</text>
<text transform="translate(149.20,261.75) scale(1.25,1)" font-family="Liberation Sans" font-size="5.30" fill="#5e5e6c" text-anchor="start">29</text>
<text x="136.30" y="272.20" font-family="Liberation Sans" font-size="5.90" fill="#5e5e6c" text-anchor="end">IO17</text>
<text transform="translate(149.20,268.80) scale(1.25,1)" font-family="Liberation Sans" font-size="5.30" fill="#5e5e6c" text-anchor="start">28</text>
<text x="136.30" y="279.25" font-family="Liberation Sans" font-size="5.90" fill="#5e5e6c" text-anchor="end">IO16</text>
<text transform="translate(149.20,275.85) scale(1.25,1)" font-family="Liberation Sans" font-size="5.30" fill="#5e5e6c" text-anchor="start">27</text>
<text x="136.30" y="286.30" font-family="Liberation Sans" font-size="5.90" fill="#5e5e6c" text-anchor="end">IO4</text>
<text transform="translate(149.20,282.90) scale(1.25,1)" font-family="Liberation Sans" font-size="5.30" fill="#5e5e6c" text-anchor="start">26</text>
<text x="136.30" y="293.35" font-family="Liberation Sans" font-size="5.90" fill="#5e5e6c" text-anchor="end">IO0</text>
<text transform="translate(149.20,289.95) scale(1.25,1)" font-family="Liberation Sans" font-size="5.30" fill="#5e5e6c" text-anchor="start">25</text>
<text x="136.30" y="307.50" font-family="Liberation Sans" font-size="5.90" fill="#5e5e6c" text-anchor="end">IO2</text>
<text transform="translate(149.20,304.10) scale(1.25,1)" font-family="Liberation Sans" font-size="5.30" fill="#5e5e6c" text-anchor="start">24</text>
<text x="136.30" y="314.55" font-family="Liberation Sans" font-size="5.90" fill="#5e5e6c" text-anchor="end">IO15</text>
<text transform="translate(149.20,311.15) scale(1.25,1)" font-family="Liberation Sans" font-size="5.30" fill="#5e5e6c" text-anchor="start">23</text>
<text x="136.30" y="321.60" font-family="Liberation Sans" font-size="5.90" fill="#5e5e6c" text-anchor="end">SD1</text>
<text transform="translate(149.20,318.20) scale(1.25,1)" font-family="Liberation Sans" font-size="5.30" fill="#5e5e6c" text-anchor="start">22</text>
<text x="136.30" y="328.65" font-family="Liberation Sans" font-size="5.90" fill="#5e5e6c" text-anchor="end">SD0</text>
<text transform="translate(149.20,325.25) scale(1.25,1)" font-family="Liberation Sans" font-size="5.30" fill="#5e5e6c" text-anchor="start">21</text>
<text x="136.30" y="335.70" font-family="Liberation Sans" font-size="5.90" fill="#5e5e6c" text-anchor="end">CLK</text>
<text transform="translate(149.20,332.30) scale(1.25,1)" font-family="Liberation Sans" font-size="5.30" fill="#5e5e6c" text-anchor="start">20</text>
<text transform="translate(72.30,348.00)" font-family="Liberation Sans" font-size="6.69" fill="#5e5e6c" textLength="8.10" lengthAdjust="spacingAndGlyphs">U1</text>
<text transform="translate(88.20,348.00)" font-family="Liberation Sans" font-size="6.69" fill="#5e5e6c" textLength="53.80" lengthAdjust="spacingAndGlyphs">ESP-WROOM-32</text>
<text transform="translate(9.20,221.00)" font-family="Liberation Sans" font-size="6.40" fill="#5e5e6c" textLength="15.90" lengthAdjust="spacingAndGlyphs">GND</text>
<text transform="translate(46.90,205.00)" font-family="Liberation Sans" font-size="6.83" fill="#5e5e6c" textLength="11.90" lengthAdjust="spacingAndGlyphs">3.3V</text>
<text transform="translate(47.30,218.60)" font-family="Liberation Sans" font-size="6.40" fill="#5e5e6c" textLength="9.50" lengthAdjust="spacingAndGlyphs">EN</text>
<text transform="translate(184.40,216.60)" font-family="Liberation Sans" font-size="6.69" fill="#5e5e6c" textLength="15.60" lengthAdjust="spacingAndGlyphs">GND</text>
<text transform="translate(166.00,211.60)" font-family="Liberation Sans" font-size="6.69" fill="#5e5e6c" textLength="12.80" lengthAdjust="spacingAndGlyphs">SCL</text>
<text transform="translate(166.00,232.00)" font-family="Liberation Sans" font-size="6.98" fill="#5e5e6c" textLength="14.00" lengthAdjust="spacingAndGlyphs">SDA</text>
<text transform="translate(149.40,241.50)" font-family="Liberation Sans" font-size="6.40" fill="#5e5e6c" textLength="12.60" lengthAdjust="spacingAndGlyphs">GND</text>
<text transform="translate(168.60,290.70)" font-family="Liberation Sans" font-size="6.83" fill="#5e5e6c" textLength="11.10" lengthAdjust="spacingAndGlyphs">IO0</text>
<text x="92.00" y="395.35" font-family="Liberation Sans" font-size="5.40" fill="#5e5e6c" text-anchor="start">2</text>
<text x="92.00" y="402.85" font-family="Liberation Sans" font-size="5.40" fill="#5e5e6c" text-anchor="start">1</text>
<text transform="translate(71.25,388.30)" font-family="Liberation Sans" font-size="7.41" fill="#4a4a4a" textLength="6.95" lengthAdjust="spacingAndGlyphs">J1</text>
<text transform="translate(108.75,392.00)" font-family="Liberation Sans" font-size="7.27" fill="#5e5e6c" textLength="11.25" lengthAdjust="spacingAndGlyphs">VIN</text>
<text transform="translate(110.60,405.00)" font-family="Liberation Sans" font-size="6.98" fill="#5e5e6c" textLength="15.00" lengthAdjust="spacingAndGlyphs">GND</text>
<text x="341.80" y="243.80" font-family="Liberation Sans" font-size="5.80" fill="#5e5e6c" text-anchor="start">CLKIN</text>
<text transform="translate(328.70,240.80) scale(1.25,1)" font-family="Liberation Sans" font-size="5.30" fill="#5e5e6c" text-anchor="end">1</text>
<text x="341.80" y="265.40" font-family="Liberation Sans" font-size="5.80" fill="#5e5e6c" text-anchor="start">SCL</text>
<text transform="translate(328.70,262.40) scale(1.25,1)" font-family="Liberation Sans" font-size="5.30" fill="#5e5e6c" text-anchor="end">23</text>
<text x="341.80" y="272.60" font-family="Liberation Sans" font-size="5.80" fill="#5e5e6c" text-anchor="start">SDA</text>
<text transform="translate(328.70,269.60) scale(1.25,1)" font-family="Liberation Sans" font-size="5.30" fill="#5e5e6c" text-anchor="end">24</text>
<text x="341.80" y="279.70" font-family="Liberation Sans" font-size="5.80" fill="#5e5e6c" text-anchor="start">AD0</text>
<text transform="translate(328.70,276.70) scale(1.25,1)" font-family="Liberation Sans" font-size="5.30" fill="#5e5e6c" text-anchor="end">9</text>
<text x="341.80" y="293.50" font-family="Liberation Sans" font-size="5.80" fill="#5e5e6c" text-anchor="start">INT</text>
<text transform="translate(328.70,290.50) scale(1.25,1)" font-family="Liberation Sans" font-size="5.30" fill="#5e5e6c" text-anchor="end">12</text>
<text x="341.80" y="300.60" font-family="Liberation Sans" font-size="5.80" fill="#5e5e6c" text-anchor="start">RESV</text>
<text transform="translate(328.70,297.60) scale(1.25,1)" font-family="Liberation Sans" font-size="5.30" fill="#5e5e6c" text-anchor="end">19</text>
<text x="341.80" y="307.70" font-family="Liberation Sans" font-size="5.80" fill="#5e5e6c" text-anchor="start">RESV</text>
<text transform="translate(328.70,304.70) scale(1.25,1)" font-family="Liberation Sans" font-size="5.30" fill="#5e5e6c" text-anchor="end">21</text>
<text x="341.80" y="314.70" font-family="Liberation Sans" font-size="5.80" fill="#5e5e6c" text-anchor="start">RESV</text>
<text transform="translate(328.70,311.70) scale(1.25,1)" font-family="Liberation Sans" font-size="5.30" fill="#5e5e6c" text-anchor="end">22</text>
<text x="413.30" y="243.80" font-family="Liberation Sans" font-size="5.80" fill="#5e5e6c" text-anchor="end">AUX_DA</text>
<text transform="translate(426.00,240.80) scale(1.25,1)" font-family="Liberation Sans" font-size="5.30" fill="#5e5e6c" text-anchor="start">6</text>
<text x="413.30" y="250.80" font-family="Liberation Sans" font-size="5.80" fill="#5e5e6c" text-anchor="end">AUX_CL</text>
<text transform="translate(426.00,247.80) scale(1.25,1)" font-family="Liberation Sans" font-size="5.30" fill="#5e5e6c" text-anchor="start">7</text>
<text x="413.30" y="265.40" font-family="Liberation Sans" font-size="5.80" fill="#5e5e6c" text-anchor="end">REGOUT</text>
<text transform="translate(426.00,262.40) scale(1.25,1)" font-family="Liberation Sans" font-size="5.30" fill="#5e5e6c" text-anchor="start">10</text>
<text x="413.30" y="272.60" font-family="Liberation Sans" font-size="5.80" fill="#5e5e6c" text-anchor="end">FSYNC</text>
<text transform="translate(426.00,269.60) scale(1.25,1)" font-family="Liberation Sans" font-size="5.30" fill="#5e5e6c" text-anchor="start">11</text>
<text x="413.30" y="279.70" font-family="Liberation Sans" font-size="5.80" fill="#5e5e6c" text-anchor="end">CPOUT</text>
<text transform="translate(426.00,276.70) scale(1.25,1)" font-family="Liberation Sans" font-size="5.30" fill="#5e5e6c" text-anchor="start">20</text>
<text x="413.30" y="293.40" font-family="Liberation Sans" font-size="5.80" fill="#5e5e6c" text-anchor="end">VDD</text>
<text transform="translate(426.00,290.40) scale(1.25,1)" font-family="Liberation Sans" font-size="5.30" fill="#5e5e6c" text-anchor="start">13</text>
<text x="413.30" y="300.50" font-family="Liberation Sans" font-size="5.80" fill="#5e5e6c" text-anchor="end">VLOGIC</text>
<text transform="translate(426.00,297.50) scale(1.25,1)" font-family="Liberation Sans" font-size="5.30" fill="#5e5e6c" text-anchor="start">8</text>
<text x="413.30" y="307.50" font-family="Liberation Sans" font-size="5.80" fill="#5e5e6c" text-anchor="end">GND</text>
<text transform="translate(426.00,304.50) scale(1.25,1)" font-family="Liberation Sans" font-size="5.30" fill="#5e5e6c" text-anchor="start">25</text>
<text x="413.30" y="314.60" font-family="Liberation Sans" font-size="5.80" fill="#5e5e6c" text-anchor="end">GND</text>
<text transform="translate(426.00,311.60) scale(1.25,1)" font-family="Liberation Sans" font-size="5.30" fill="#5e5e6c" text-anchor="start">18</text>
<text transform="translate(275.00,258.00)" font-family="Liberation Sans" font-size="7.27" fill="#5e5e6c" textLength="15.30" lengthAdjust="spacingAndGlyphs">GND</text>
<text transform="translate(230.00,260.00)" font-family="Liberation Sans" font-size="7.27" fill="#5e5e6c" textLength="13.00" lengthAdjust="spacingAndGlyphs">3.3V</text>
<text transform="translate(300.60,260.00)" font-family="Liberation Sans" font-size="6.40" fill="#5e5e6c" textLength="13.20" lengthAdjust="spacingAndGlyphs">SCL</text>
<text transform="translate(300.60,269.40)" font-family="Liberation Sans" font-size="6.98" fill="#5e5e6c" textLength="14.40" lengthAdjust="spacingAndGlyphs">SDA</text>
<text transform="translate(228.00,323.00)" font-family="Liberation Sans" font-size="7.27" fill="#5e5e6c" textLength="15.00" lengthAdjust="spacingAndGlyphs">GND</text>
<text transform="translate(525.80,291.20)" font-family="Liberation Sans" font-size="7.56" fill="#5e5e6c" textLength="15.00" lengthAdjust="spacingAndGlyphs">GND</text>
<text transform="translate(437.70,340.20)" font-family="Liberation Sans" font-size="7.56" fill="#5e5e6c" textLength="15.60" lengthAdjust="spacingAndGlyphs">GND</text>
<text transform="translate(483.00,294.20)" font-family="Liberation Sans" font-size="7.27" fill="#5e5e6c" textLength="14.30" lengthAdjust="spacingAndGlyphs">3.3V</text>
</svg>
<svg id="ov" width="705" height="533" viewBox="0 0 705 533">
<text transform="translate(173.90,111.90) scale(1,1.339)" font-family="Liberation Mono" font-size="6.57" fill="#4a4a4a" stroke="#4a4a4a" stroke-width="0.15">C1</text>
<text transform="translate(173.90,125.80) scale(1,1.232)" font-family="Liberation Mono" font-size="7.15" fill="#4a4a4a" stroke="#4a4a4a" stroke-width="0.15">10uF</text>
<text transform="translate(211.30,111.90) scale(1,1.235)" font-family="Liberation Mono" font-size="7.13" fill="#4a4a4a" stroke="#4a4a4a" stroke-width="0.15">C2</text>
<text transform="translate(211.30,126.00) scale(1,1.279)" font-family="Liberation Mono" font-size="6.89" fill="#4a4a4a" stroke="#4a4a4a" stroke-width="0.15">10uF</text>
<text transform="translate(243.80,117.80) rotate(-90) scale(1,1.189)" font-family="Liberation Mono" font-size="7.41" fill="#4a4a4a" stroke="#4a4a4a" stroke-width="0.15">R2</text>
<text transform="translate(257.00,122.00) rotate(-90) scale(1,1.053)" font-family="Liberation Mono" font-size="7.06" fill="#4a4a4a" stroke="#4a4a4a" stroke-width="0.15">100k</text>
<text transform="translate(244.20,151.90) rotate(-90) scale(1,1.355)" font-family="Liberation Mono" font-size="6.94" fill="#4a4a4a" stroke="#4a4a4a" stroke-width="0.15">R1</text>
<text transform="translate(257.30,153.80) rotate(-90) scale(1,1.157)" font-family="Liberation Mono" font-size="7.08" fill="#4a4a4a" stroke="#4a4a4a" stroke-width="0.15">20k</text>
<text transform="translate(287.60,123.60) rotate(-90) scale(1,1.312)" font-family="Liberation Mono" font-size="6.48" fill="#4a4a4a" stroke="#4a4a4a" stroke-width="0.15">D1</text>
<text transform="translate(307.20,124.00) rotate(-90) scale(1,1.136)" font-family="Liberation Mono" font-size="5.75" fill="#4a4a4a" stroke="#4a4a4a" stroke-width="0.15">Yellow</text>
<text transform="translate(293.00,152.00) rotate(-90) scale(1,1.093)" font-family="Liberation Mono" font-size="8.33" fill="#4a4a4a" stroke="#4a4a4a" stroke-width="0.15">R3</text>
<text transform="translate(306.00,151.00) rotate(-90) scale(1,1.171)" font-family="Liberation Mono" font-size="6.48" fill="#4a4a4a" stroke="#4a4a4a" stroke-width="0.15">1k</text>
<text transform="translate(351.00,118.80) rotate(-90) scale(1,1.080)" font-family="Liberation Mono" font-size="7.59" fill="#4a4a4a" stroke="#4a4a4a" stroke-width="0.15">R7</text>
<text transform="translate(365.00,121.00) rotate(-90) scale(1,1.318)" font-family="Liberation Mono" font-size="7.14" fill="#4a4a4a" stroke="#4a4a4a" stroke-width="0.15">10k</text>
<text transform="translate(405.60,118.80) rotate(-90) scale(1,1.120)" font-family="Liberation Mono" font-size="7.59" fill="#4a4a4a" stroke="#4a4a4a" stroke-width="0.15">R8</text>
<text transform="translate(419.00,121.00) rotate(-90) scale(1,1.275)" font-family="Liberation Mono" font-size="7.14" fill="#4a4a4a" stroke="#4a4a4a" stroke-width="0.15">10k</text>
<text transform="translate(358.80,142.50) scale(1,1.252)" font-family="Liberation Mono" font-size="6.67" fill="#4a4a4a" stroke="#4a4a4a" stroke-width="0.15">C8</text>
<text transform="translate(413.00,142.50) scale(1,1.187)" font-family="Liberation Mono" font-size="7.04" fill="#4a4a4a" stroke="#4a4a4a" stroke-width="0.15">C9</text>
<text transform="translate(358.70,157.30) scale(1,1.314)" font-family="Liberation Mono" font-size="6.35" fill="#4a4a4a" stroke="#4a4a4a" stroke-width="0.15">0.1uF</text>
<text transform="translate(412.70,157.30) scale(1,1.314)" font-family="Liberation Mono" font-size="6.35" fill="#4a4a4a" stroke="#4a4a4a" stroke-width="0.15">0.1uF</text>
<text transform="translate(31.80,227.50) rotate(-90) scale(1,1.246)" font-family="Liberation Mono" font-size="6.70" fill="#4a4a4a" stroke="#4a4a4a" stroke-width="0.15">100uF</text>
<text transform="translate(44.90,215.80) rotate(-90) scale(1,1.326)" font-family="Liberation Mono" font-size="6.30" fill="#4a4a4a" stroke="#4a4a4a" stroke-width="0.15">C3</text>
<text transform="translate(334.80,224.00) scale(1,1.326)" font-family="Liberation Mono" font-size="5.95" fill="#4a4a4a" stroke="#4a4a4a" stroke-width="0.15">IC1</text>
<text transform="translate(335.00,334.00) scale(1,0.984)" font-family="Liberation Mono" font-size="7.40" fill="#4a4a4a" stroke="#4a4a4a" stroke-width="0.15">MPU6050</text>
<text transform="translate(260.60,238.00) rotate(-90) scale(1,1.452)" font-family="Liberation Mono" font-size="6.48" fill="#4a4a4a" stroke="#4a4a4a" stroke-width="0.15">C4</text>
<text transform="translate(274.40,238.00) rotate(-90) scale(1,1.608)" font-family="Liberation Mono" font-size="6.04" fill="#4a4a4a" stroke="#4a4a4a" stroke-width="0.15">0.1uF</text>
<text transform="translate(253.75,258.00) scale(1,1.093)" font-family="Liberation Mono" font-size="7.64" fill="#4a4a4a" stroke="#4a4a4a" stroke-width="0.15">R4</text>
<text transform="translate(250.60,271.00) scale(1,1.202)" font-family="Liberation Mono" font-size="6.32" fill="#4a4a4a" stroke="#4a4a4a" stroke-width="0.15">4.7k</text>
<text transform="translate(253.75,278.60) scale(1,1.113)" font-family="Liberation Mono" font-size="7.64" fill="#4a4a4a" stroke="#4a4a4a" stroke-width="0.15">R5</text>
<text transform="translate(250.60,292.00) scale(1,1.202)" font-family="Liberation Mono" font-size="6.32" fill="#4a4a4a" stroke="#4a4a4a" stroke-width="0.15">4.7k</text>
<text transform="translate(253.75,299.40) scale(1,0.994)" font-family="Liberation Mono" font-size="7.64" fill="#4a4a4a" stroke="#4a4a4a" stroke-width="0.15">R6</text>
<text transform="translate(250.60,313.00) scale(1,1.202)" font-family="Liberation Mono" font-size="6.32" fill="#4a4a4a" stroke="#4a4a4a" stroke-width="0.15">4.7k</text>
<text transform="translate(451.30,273.40) rotate(-90) scale(1,1.030)" font-family="Liberation Mono" font-size="7.22" fill="#4a4a4a" stroke="#4a4a4a" stroke-width="0.15">C7</text>
<text transform="translate(466.20,273.40) rotate(-90) scale(1,1.779)" font-family="Liberation Mono" font-size="6.15" fill="#4a4a4a" stroke="#4a4a4a" stroke-width="0.15">2.2nF</text>
<text transform="translate(498.90,274.00) rotate(-90) scale(1,1.007)" font-family="Liberation Mono" font-size="6.48" fill="#4a4a4a" stroke="#4a4a4a" stroke-width="0.15">C6</text>
<text transform="translate(485.40,284.80) rotate(-90) scale(1,1.600)" font-family="Liberation Mono" font-size="5.69" fill="#4a4a4a" stroke="#4a4a4a" stroke-width="0.15">0.1uF</text>
<text transform="translate(479.50,307.70) scale(1,1.228)" font-family="Liberation Mono" font-size="6.18" fill="#4a4a4a" stroke="#4a4a4a" stroke-width="0.15">0.1uF</text>
<text transform="translate(489.50,322.10) scale(1,1.030)" font-family="Liberation Mono" font-size="7.22" fill="#4a4a4a" stroke="#4a4a4a" stroke-width="0.15">C5</text>
</svg>
</body></html>
